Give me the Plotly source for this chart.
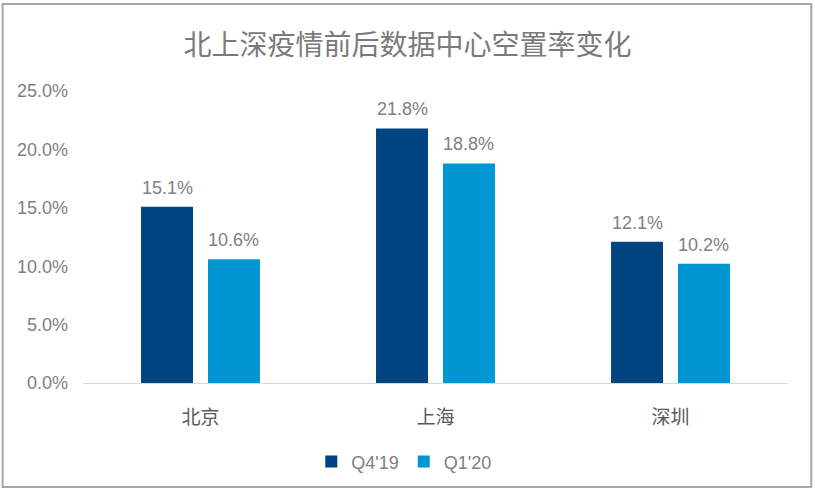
import plotly.graph_objects as go

categories = ["北京", "上海", "深圳"]
q4_19 = [15.1, 21.8, 12.1]
q1_20 = [10.6, 18.8, 10.2]
series_names = ["Q4'19", "Q1'20"]
tick_vals = [0, 5, 10, 15, 20, 25]
tick_text = ["0.0%", "5.0%", "10.0%", "15.0%", "20.0%", "25.0%"]
colors = ["#004481", "#0096D4"]

latin = "Liberation Sans, Arial, sans-serif"
cjk = "Noto Sans CJK SC, sans-serif"
gray = "#808080"

bargap = 0.43
bargroupgap = 0.224

fig = go.Figure()
for name, vals, color in [(series_names[0], q4_19, colors[0]), (series_names[1], q1_20, colors[1])]:
    fig.add_trace(go.Bar(x=categories, y=vals, name=name, marker_color=color,
                         marker_line_width=0))

# data labels, placed through the axis scales above each bar
slot = (1 - bargap) / 2
for k, vals in enumerate([q4_19, q1_20]):
    off = (k - 0.5) * slot
    for i, v in enumerate(vals):
        fig.add_annotation(x=i + off, y=v, xref="x", yref="y", text=f"{v:.1f}%",
                           showarrow=False, yanchor="bottom", yshift=7,
                           font=dict(size=18, color=gray, family=latin))

fig.update_layout(
    width=815, height=494,
    margin=dict(l=83, r=27, t=91, b=111),
    paper_bgcolor="white", plot_bgcolor="white",
    barmode="group", bargap=bargap, bargroupgap=bargroupgap,
    title=dict(text="北上深疫情前后数据中心空置率变化", x=0.5, xanchor="center",
               y=0.909, yanchor="middle",
               font=dict(size=28, color="#7a7a7a", family=cjk)),
    font=dict(family=latin, color=gray, size=18),
    xaxis=dict(showline=True, linecolor="#d9d9d9", linewidth=1, showgrid=False,
               tickfont=dict(size=19, color="#595959", family=cjk),
               ticks="", ticklabelstandoff=17),
    yaxis=dict(range=[0, 25], tickvals=tick_vals, ticktext=tick_text,
               showgrid=False, zeroline=False, showline=False,
               tickfont=dict(size=18, color=gray, family=latin), ticklabelstandoff=14),
    legend=dict(orientation="h", x=0.455, xanchor="center", y=-0.27, yanchor="middle",
                font=dict(size=18, color=gray, family=latin), itemwidth=30,
                traceorder="normal"),
    showlegend=True,
)

fig.add_shape(type="rect", xref="paper", yref="paper",
              x0=-0.114, x1=1.033, y0=-0.356, y1=1.298,
              line=dict(color="#a6a6a6", width=2), fillcolor="rgba(0,0,0,0)", layer="below")

fig.write_html("out.html", config={"displayModeBar": False},
               post_script="document.body.style.margin='0';")
